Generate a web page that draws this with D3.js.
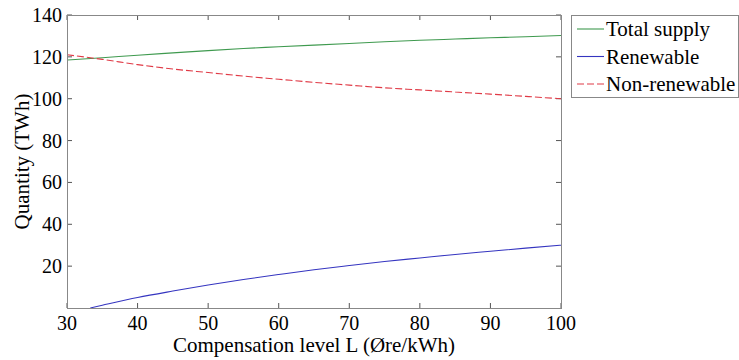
<!DOCTYPE html>
<html><head><meta charset="utf-8">
<script src="https://cdn.jsdelivr.net/npm/d3@7"></script>
<style>body{margin:0;background:#fff}svg{display:block}</style>
</head><body>
<svg id="c" width="739" height="360"></svg>
<script>
const L = [30,35,40,45,50,55,60,65,70,75,80,85,90,95,100];
const totalSupply = [118.5,119.6,120.8,121.9,123.0,124.0,124.8,125.6,126.4,127.2,127.9,128.5,129.1,129.6,130.2];
const nonRenewable = [121.0,118.8,116.3,114.2,112.5,110.8,109.3,107.8,106.5,105.2,104.2,103.2,102.2,101.1,100.0];
const renewableL = [33.3,35,40,45,50,55,60,65,70,75,80,85,90,95,100];
const renewable = [0,1.3,5.0,8.1,11.0,13.6,16.0,18.3,20.3,22.2,23.9,25.6,27.1,28.6,30.0];
const xTicks = [30,40,50,60,70,80,90,100];
const yTicks = [20,40,60,80,100,120,140];
const seriesNames = ["Total supply","Renewable","Non-renewable"];

const svg = d3.select("#c");
const FONT = '"Liberation Serif"';
const m = {l:67, r:561, t:15, b:308};
const x = d3.scaleLinear().domain([30,100]).range([m.l,m.r]);
const y = d3.scaleLinear().domain([0,140]).range([m.b,m.t]);

const g = svg.append("g");
const tk = 5;
const axCol = "#555";
function txt(sel, size){ return sel.style("font-family",FONT).style("font-size",size+"px").style("fill","#000"); }
xTicks.forEach(v=>{
  g.append("line").attr("x1",x(v)).attr("x2",x(v)).attr("y1",m.b).attr("y2",m.b-tk).attr("stroke",axCol);
  g.append("line").attr("x1",x(v)).attr("x2",x(v)).attr("y1",m.t).attr("y2",m.t+tk).attr("stroke",axCol);
  txt(g.append("text").attr("x",x(v)).attr("y",m.b+22).attr("text-anchor","middle"),20).text(v);
});
yTicks.forEach(v=>{
  g.append("line").attr("x1",m.l).attr("x2",m.l+tk).attr("y1",y(v)).attr("y2",y(v)).attr("stroke",axCol);
  g.append("line").attr("x1",m.r).attr("x2",m.r-tk).attr("y1",y(v)).attr("y2",y(v)).attr("stroke",axCol);
  txt(g.append("text").attr("x",m.l-5).attr("y",y(v)+7).attr("text-anchor","end"),20).text(v);
});

const line = d3.line().x(d=>x(d[0])).y(d=>y(d[1])).curve(d3.curveMonotoneX);
const defs = [
  {name:seriesNames[0], xs:L, ys:totalSupply, color:"#3f9a4f", dash:null},
  {name:seriesNames[1], xs:renewableL, ys:renewable, color:"#3535c0", dash:null},
  {name:seriesNames[2], xs:L, ys:nonRenewable, color:"#e03a46", dash:"7,3"}
];
defs.forEach(s=>{
  g.append("path").datum(s.xs.map((v,i)=>[v,s.ys[i]])).attr("d",line)
   .attr("fill","none").attr("stroke",s.color).attr("stroke-width",1.1)
   .attr("stroke-dasharray",s.dash);
});
g.append("rect").attr("x",m.l+0.5).attr("y",m.t+0.5).attr("width",m.r-m.l).attr("height",m.b-m.t)
 .attr("fill","none").attr("stroke","#888");

txt(g.append("text").attr("x",(m.l+m.r)/2).attr("y",352).attr("text-anchor","middle"),21)
 .text("Compensation level L (Øre/kWh)");
txt(g.append("text").attr("transform",`translate(29,${(m.t+m.b)/2}) rotate(-90)`).attr("text-anchor","middle"),21)
 .text("Quantity (TWh)");

const lg = svg.append("g");
lg.append("rect").attr("x",571.5).attr("y",15.5).attr("width",167).attr("height",82)
  .attr("fill","#fff").attr("stroke","#888");
defs.forEach((s,i)=>{
  const yy = 29 + i*27.5;
  lg.append("line").attr("x1",577).attr("x2",604).attr("y1",yy).attr("y2",yy)
    .attr("stroke",s.color).attr("stroke-width",1.1).attr("stroke-dasharray",s.dash);
  txt(lg.append("text").attr("x",606).attr("y",yy+7),21).text(s.name);
});
</script>
</body></html>
